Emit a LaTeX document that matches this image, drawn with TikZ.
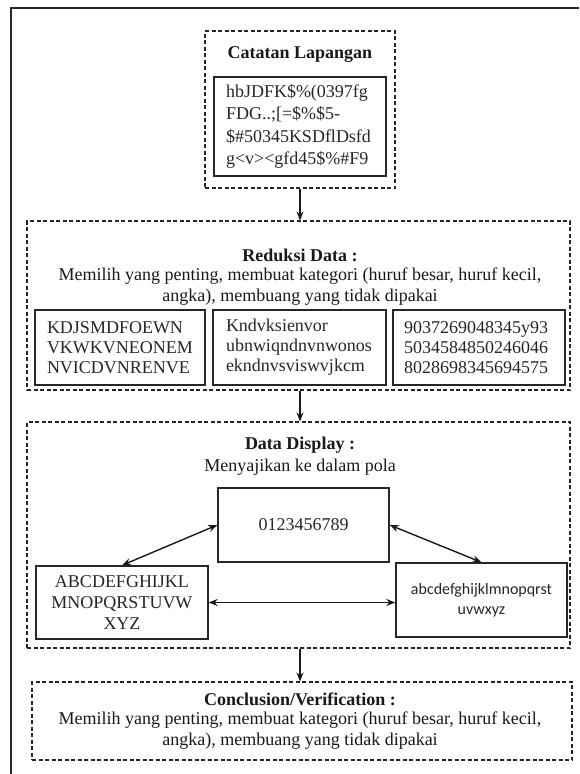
\documentclass[tikz,border=0pt]{standalone}
\usepackage{fontspec}
\setmainfont{Liberation Serif}
\newfontfamily\calfont{Carlito}
\usetikzlibrary{arrows.meta}
\tikzset{
  dashbox/.style={draw=black!85, dash pattern=on 4pt off 2.5pt, line width=1.1pt, inner sep=0pt},
  solidbox/.style={draw=black!85, line width=1.4pt, inner sep=0pt},
  bodytxt/.style={font=\fontsize{18}{21}\selectfont, inner sep=0pt, align=center, text=black!90},
  ttl/.style={font=\fontsize{18}{21}\selectfont\bfseries, inner sep=0pt, text=black!90},
  boxtxt/.style={font=\fontsize{18}{20}\selectfont, align=left, text=black!85},
  arr/.style={draw=black!90, line width=1.4pt, -{Stealth[length=9pt,width=7pt]}},
  darr/.style={draw=black!90, line width=1.4pt, {Stealth[length=9pt,width=7pt]}-{Stealth[length=9pt,width=7pt]}},
  frame/.style={draw=black!85, line width=1.6pt}
}
\begin{document}
\begin{tikzpicture}[x=1pt,y=-1pt]
\useasboundingbox (0,0) rectangle (579,774);
% outer frame (cropped)
\draw[frame] (579,8) -- (11,8) -- (11,774);

% Catatan Lapangan
\node[dashbox, minimum width=190pt, minimum height=157pt] (catatan) at (300,109.5) {};
\node[ttl] (cattitle) at (300,55) {Catatan Lapangan};
\node[solidbox, minimum width=172pt, minimum height=99pt, text width=148pt, inner xsep=12pt,
      font=\fontsize{18}{22.5}\selectfont, align=left, text=black!85] (catinner) at (300,126.5)
  {hbJDFK\$\%(0397fg\\FDG..;[=\$\%\$5-\\\$\#50345KSDflDsfd\\g<v><gfd45\$\%\#F9};

% Reduksi Data
\node[dashbox, minimum width=543pt, minimum height=169pt] (reduksi) at (298.5,305.5) {};
\node[ttl] (redtitle) at (300,255) {Reduksi Data :};
\node[bodytxt] (redbody) at (300,287) {Memilih yang penting, membuat kategori (huruf besar, huruf kecil,\\angka), membuang yang tidak dipakai};
\node[solidbox, boxtxt, minimum width=170pt, minimum height=75pt, text width=146pt, inner xsep=12pt] (b1) at (120,347.5)
  {KDJSMDFOEWN\\VKWKVNEONEM\\NVICDVNRENVE};
\node[solidbox, boxtxt, minimum width=173pt, minimum height=75pt, text width=147pt, inner xsep=13pt] (b2) at (299.5,347.5)
  {Kndvksienvor\\ubnwiqndnvnwonos\\ekndnvsviswvjkcm};
\node[solidbox, boxtxt, minimum width=172pt, minimum height=75pt, text width=150pt, inner xsep=11pt] (b3) at (479,347.5)
  {9037269048345y93\\5034584850246046\\8028698345694575};

% Data Display
\node[dashbox, minimum width=543pt, minimum height=226pt] (display) at (298.5,535) {};
\node[ttl] (distitle) at (300,445) {Data Display :};
\node[bodytxt] (disbody) at (300,467) {Menyajikan ke dalam pola};
\node[solidbox, minimum width=171pt, minimum height=74pt, font=\fontsize{18}{21}\selectfont, text=black!85] (cbox) at (303.5,525) {0123456789};
\node[solidbox, minimum width=172pt, minimum height=73pt, font=\fontsize{18}{21}\selectfont, align=center, text=black!85] (lbox) at (122,602.5)
  {ABCDEFGHIJKL\\MNOPQRSTUVW\\XYZ};
\node[solidbox, minimum width=171pt, minimum height=74pt, font=\calfont\fontsize{16}{20}\selectfont, align=center, text=black!85] (rbox) at (481.5,600)
  {abcdefghijklmnopqrst\\uvwxyz};
\draw[darr] (lbox.north) -- (cbox.west);
\draw[darr] (cbox.east) -- (rbox.north);
\draw[darr] (lbox.east) -- (lbox.east -| rbox.west);

% Conclusion
\node[dashbox, minimum width=540pt, minimum height=78pt] (concl) at (302,721) {};
\node[ttl] (contitle) at (300,699) {Conclusion/Verification :};
\node[bodytxt] (conbody) at (300,731) {Memilih yang penting, membuat kategori (huruf besar, huruf kecil,\\angka), membuang yang tidak dipakai};

% vertical arrows
\draw[arr] (catatan.south) -- (catatan.south |- reduksi.north);
\draw[arr] (catatan.south |- reduksi.south) -- (catatan.south |- display.north);
\draw[arr] (catatan.south |- display.south) -- (catatan.south |- concl.north);
\end{tikzpicture}
\end{document}
